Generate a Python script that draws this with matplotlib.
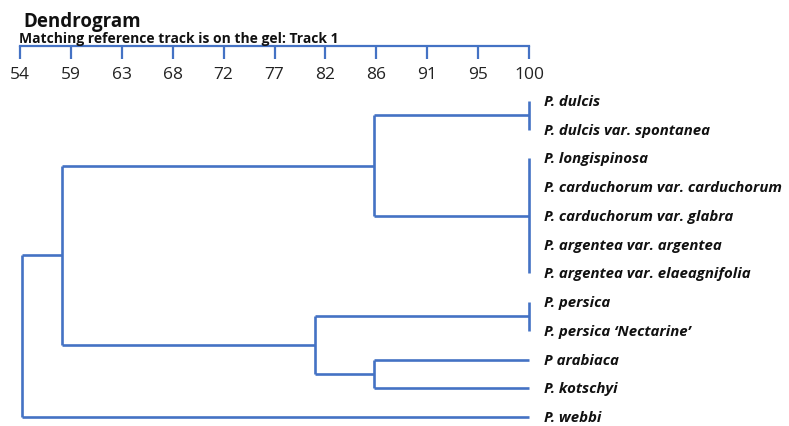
import numpy as np
import matplotlib.pyplot as plt

plt.rcParams['font.family'] = ['Open Sans', 'DejaVu Sans']

# leaves, top to bottom
leaves = ['P. dulcis', 'P. dulcis var. spontanea', 'P. longispinosa',
          'P. carduchorum var. carduchorum', 'P. carduchorum var. glabra',
          'P. argentea var. argentea', 'P. argentea var. elaeagnifolia',
          'P. persica', 'P. persica \u2018Nectarine\u2019', 'P arabiaca',
          'P. kotschyi', 'P. webbi']

# merges: children ids (leaves are 0..11, new clusters get 12, 13, ...)
merge_children = [[0, 1], [2, 3, 4, 5, 6], [12, 13], [7, 8], [9, 10],
                  [15, 16], [14, 17], [18, 11]]
merge_sim = [100, 100, 86, 100, 86, 80.7, 57.8, 54.2]

scale_ticks = np.linspace(54, 100, 11)
scale_labels = ['54', '59', '63', '68', '72', '77', '82', '86', '91', '95', '100']

blue = '#4472c4'
W, H = 789, 427
fig = plt.figure(figsize=(W / 100, H / 100), dpi=100)

# dendrogram axes: leaf i sits at pixel 102 + 28.73*i
step = 28.73
ax = fig.add_axes([20 / W, 0, 509 / W, 1])
ax.set_xlim(54, 100)
ax.set_ylim((H - 102) / step, -102 / step)
ax.axis('off')

pos = {i: (100, i) for i in range(len(leaves))}
for k, (ch, s) in enumerate(zip(merge_children, merge_sim)):
    ys = [pos[c][1] for c in ch]
    ax.plot([s, s], [min(ys), max(ys)], color=blue, lw=1.9,
            solid_capstyle='butt', clip_on=False)
    for c in ch:
        if pos[c][0] != s:
            ax.plot([pos[c][0], s], [pos[c][1]] * 2, color=blue, lw=1.9,
                    solid_capstyle='butt', clip_on=False)
    pos[len(leaves) + k] = (s, (min(ys) + max(ys)) / 2)

for i, name in enumerate(leaves):
    ax.annotate(name, (100, i), xytext=(11, 0), textcoords='offset points',
                ha='left', va='center', fontsize=10.8, fontweight='bold',
                fontstyle='italic', color='#111111', annotation_clip=False)

# similarity scale on top
sax = fig.add_axes([20 / W, 1 - 47 / H, 509 / W, 0.001], sharex=ax)
sax.patch.set_alpha(0)
for side in ['top', 'left', 'right']:
    sax.spines[side].set_visible(False)
sax.spines['bottom'].set_color(blue)
sax.spines['bottom'].set_linewidth(1.6)
sax.set_xticks(scale_ticks, scale_labels)
sax.set_yticks([])
sax.tick_params(axis='x', direction='out', length=9.4, width=1.6, color=blue,
                labelsize=12.5, pad=5, labelcolor='#222222')

fig.text(23 / W, 1 - 27.5 / H, 'Dendrogram', fontsize=13.5, fontweight='bold',
         va='baseline', color='#111111')
fig.text(19 / W, 1 - 43 / H, 'Matching reference track is on the gel: Track 1',
         fontsize=10, fontweight='bold', va='baseline', color='#111111')

fig.savefig('out.png', dpi=100)
